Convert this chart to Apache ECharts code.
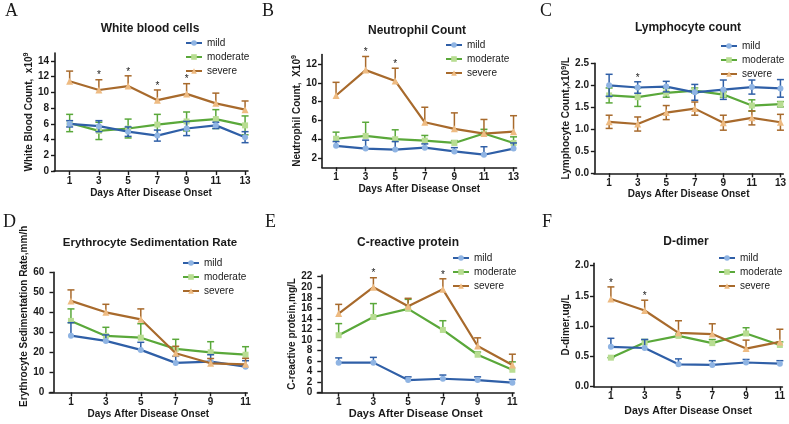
<!DOCTYPE html>
<html><head><meta charset="utf-8">
<script src="https://cdn.jsdelivr.net/npm/echarts@6/dist/echarts.min.js"></script>
<style>html,body{margin:0;padding:0;background:#fff}#c{width:789px;height:424px}</style>
</head><body><div id="c"></div>
<script>
// ---------- data ----------
const days13 = [1, 3, 5, 7, 9, 11, 13];
const days11 = [1, 3, 5, 7, 9, 11];
const groups = ['mild', 'moderate', 'severe'];

// A  White blood cells
const wbcMild = [6.0, 5.7, 5.0, 4.5, 5.4, 5.8, 4.3];
const wbcMildErr = [0.4, 0.7, 0.6, 0.7, 0.9, 0.4, 0.7];
const wbcModerate = [6.1, 5.1, 5.4, 5.9, 6.3, 6.6, 5.8];
const wbcModerateErr = [1.1, 1.1, 1.2, 1.3, 1.2, 1.2, 1.2];
const wbcSevere = [11.4, 10.3, 10.8, 9.0, 9.8, 8.6, 7.8];
const wbcSevereErr = [1.3, 1.3, 1.3, 1.3, 1.3, 1.3, 1.1];
const wbcStars = [3, 5, 7, 9];
const wbcTicks = [0, 2, 4, 6, 8, 10, 12, 14];

// B  Neutrophil count
const neuMild = [3.3, 3.0, 2.9, 3.1, 2.7, 2.35, 3.0];
const neuMildErr = [0.45, 0.9, 0.85, 0.4, 0.4, 0.85, 0.6];
const neuModerate = [4.05, 4.35, 4.0, 3.85, 3.6, 4.6, 3.6];
const neuModerateErr = [0.7, 1.45, 1.0, 0.55, 0.25, 0.45, 0.65];
const neuSevere = [8.65, 11.35, 10.2, 5.8, 5.1, 4.6, 4.8];
const neuSevereErr = [1.4, 1.45, 1.35, 1.6, 1.7, 1.5, 1.7];
const neuStars = [3, 5];
const neuTicks = [2, 4, 6, 8, 10, 12];

// C  Lymphocyte count
const lymMild = [2.0, 1.95, 1.97, 1.84, 1.9, 1.96, 1.93];
const lymMildErr = [0.25, 0.13, 0.12, 0.18, 0.22, 0.16, 0.2];
const lymModerate = [1.77, 1.73, 1.83, 1.88, 1.79, 1.54, 1.57];
const lymModerateErr = [0.17, 0.21, 0.1, 0.06, 0.06, 0.13, 0.06];
const lymSevere = [1.17, 1.12, 1.38, 1.47, 1.15, 1.26, 1.16];
const lymSevereErr = [0.15, 0.16, 0.16, 0.15, 0.17, 0.16, 0.18];
const lymStars = [3];
const lymTicks = [0, 0.5, 1.0, 1.5, 2.0, 2.5];

// D  Erythrocyte sedimentation rate
const esrMild = [28.3, 25.7, 21.2, 14.7, 15.3, 12.8];
const esrMildErr = [6.5, 3.0, 3.8, 3.3, 3.5, 3.0];
const esrModerate = [35.7, 28.2, 27.3, 21.7, 20.0, 18.8];
const esrModerateErr = [6.0, 4.3, 7.0, 4.8, 5.3, 4.0];
const esrSevere = [45.7, 40.0, 36.5, 19.5, 14.5, 14.0];
const esrSevereErr = [5.5, 4.0, 5.2, 3.5, 2.4, 3.0];
const esrStars = [];
const esrTicks = [0, 10, 20, 30, 40, 50, 60];

// E  C-reactive protein
const crpMild = [5.7, 5.7, 2.4, 2.65, 2.4, 1.9];
const crpMildErr = [0.9, 1.0, 0.6, 0.7, 0.6, 0.6];
const crpModerate = [10.9, 14.35, 15.9, 11.9, 7.2, 4.35];
const crpModerateErr = [2.2, 2.55, 1.8, 1.75, 0.5, 1.5];
const crpSevere = [15.0, 20.0, 16.4, 19.6, 8.85, 5.25];
const crpSevereErr = [1.75, 1.8, 1.5, 2.0, 1.55, 2.05];
const crpStars = [3, 7];
const crpTicks = [0, 2, 4, 6, 8, 10, 12, 14, 16, 18, 20, 22];

// F  D-dimer
const ddMild = [0.66, 0.64, 0.37, 0.36, 0.40, 0.38];
const ddMildErr = [0.14, 0.14, 0.09, 0.07, 0.05, 0.05];
const ddModerate = [0.48, 0.73, 0.84, 0.72, 0.88, 0.69];
const ddModerateErr = [0.0, 0.05, 0.03, 0.06, 0.095, 0.05];
const ddSevere = [1.45, 1.26, 0.89, 0.87, 0.63, 0.74];
const ddSevereErr = [0.2, 0.17, 0.2, 0.17, 0.14, 0.21];
const ddStars = [1, 3];
const ddTicks = [0, 0.5, 1.0, 1.5, 2.0];

// ---------- panels (data references + layout) ----------
const panels = [
  {letter: 'A', title: 'White blood cells', xs: days13, yTicks: wbcTicks, stars: wbcStars, starGroup: 'severe',
   yName: 'White Blood Count,  x10{s|9}',
   vals: {mild: [wbcMild, wbcMildErr], moderate: [wbcModerate, wbcModerateErr], severe: [wbcSevere, wbcSevereErr]},
   both: {mild: true, moderate: true, severe: false}},
  {letter: 'B', title: 'Neutrophil Count', xs: days13, yTicks: neuTicks, stars: neuStars, starGroup: 'severe',
   yName: 'Neutrophil Count,  X10{s|9}',
   vals: {mild: [neuMild, neuMildErr], moderate: [neuModerate, neuModerateErr], severe: [neuSevere, neuSevereErr]},
   both: {mild: false, moderate: false, severe: false}},
  {letter: 'C', title: 'Lymphocyte count', xs: days13, yTicks: lymTicks, stars: lymStars, starGroup: 'mild',
   yName: 'Lymphocyte Count,x10{s|9}/L',
   vals: {mild: [lymMild, lymMildErr], moderate: [lymModerate, lymModerateErr], severe: [lymSevere, lymSevereErr]},
   both: {mild: true, moderate: true, severe: true}},
  {letter: 'D', title: 'Erythrocyte Sedimentation Rate', xs: days11, yTicks: esrTicks, stars: esrStars, starGroup: 'severe',
   yName: 'Erythrocyte Sedimentation Rate,mm/h',
   vals: {mild: [esrMild, esrMildErr], moderate: [esrModerate, esrModerateErr], severe: [esrSevere, esrSevereErr]},
   both: {mild: false, moderate: false, severe: false}},
  {letter: 'E', title: 'C-reactive protein', xs: days11, yTicks: crpTicks, stars: crpStars, starGroup: 'severe',
   yName: 'C-reactive protein,mg/L',
   vals: {mild: [crpMild, crpMildErr], moderate: [crpModerate, crpModerateErr], severe: [crpSevere, crpSevereErr]},
   both: {mild: false, moderate: false, severe: false}},
  {letter: 'F', title: 'D-dimer', xs: days11, yTicks: ddTicks, stars: ddStars, starGroup: 'severe',
   yName: 'D-dimer,ug/L',
   vals: {mild: [ddMild, ddMildErr], moderate: [ddModerate, ddModerateErr], severe: [ddSevere, ddSevereErr]},
   both: {mild: false, moderate: false, severe: false}}
];

const layouts = [
  {grid: {left: 54, top: 53, width: 194, height: 118}, xMin: -0.07, xMax: 13.2, yMin: 0, yMax: 15, dec: 0,
   letter: [5, 11], title: [150, 29], legend: [185, 38], yGap: 16, xGap: 17, xNameSize: 10, yNameShift: 0},
  {grid: {left: 322, top: 54.6, width: 194.5, height: 112.8}, xMin: 0.05, xMax: 13.2, yMin: 1, yMax: 13, dec: 0,
   letter: [262, 11], title: [417, 31], legend: [445, 40], yGap: 19, xGap: 17, xNameSize: 10, yNameShift: 0},
  {grid: {left: 594, top: 63.3, width: 192, height: 110}, xMin: -0.06, xMax: 13.2, yMin: 0, yMax: 2.5, dec: 1,
   letter: [540, 11], title: [688, 28], legend: [720, 41], yGap: 20, xGap: 16, xNameSize: 10, yNameShift: 0},
  {grid: {left: 49.3, top: 272.3, width: 198, height: 120}, xMin: -0.24, xMax: 11.1, yMin: 0, yMax: 60, dec: 0,
   letter: [3, 222], title: [150, 243], legend: [182, 258], yGap: 14, xGap: 17, xNameSize: 10, yNameShift: 32},
  {grid: {left: 317.3, top: 275.1, width: 196.8, height: 117.6}, xMin: -0.23, xMax: 11.1, yMin: 0, yMax: 22.3, dec: 0,
   letter: [265, 222], title: [408, 243], legend: [452, 253], yGap: 15, xGap: 15, xNameSize: 11, yNameShift: 0},
  {grid: {left: 594, top: 263.3, width: 188.4, height: 123.4}, xMin: 0, xMax: 11.15, yMin: 0, yMax: 2.04, dec: 1,
   letter: [542, 222], title: [686, 242], legend: [718, 253], yGap: 22, xGap: 19, xNameSize: 10.5, yNameShift: 0}
];

// ---------- styles ----------
const FONT = "'Liberation Sans', Arial, Helvetica, sans-serif";
const INK = '#1a1a1a';
const COLORS = {
  mild: {line: '#2f5fa7', sym: '#8fb4e3'},
  moderate: {line: '#5aa83a', sym: '#b8dd92'},
  severe: {line: '#a86a2c', sym: '#eebb82'}
};
const SYMBOL = {mild: 'circle', moderate: 'rect', severe: 'triangle'};
const SYMSIZE = {mild: 6, moderate: 6, severe: 7};

const grid = [], xAxis = [], yAxis = [], series = [], legend = [], graphic = [];

panels.forEach((p, i) => {
  const L = layouts[i];
  grid.push(L.grid);
  xAxis.push({
    gridIndex: i, type: 'value', min: L.xMin, max: L.xMax,
    name: 'Days After Disease Onset', nameLocation: 'middle', nameGap: L.xGap,
    nameTextStyle: {fontFamily: FONT, fontWeight: 'bold', fontSize: L.xNameSize, color: INK},
    axisLine: {show: true, onZero: false, lineStyle: {color: INK, width: 1.6}},
    axisTick: {show: true, length: 4, lineStyle: {color: INK, width: 1.4}, customValues: p.xs},
    axisLabel: {customValues: p.xs, margin: 5, fontFamily: FONT, fontWeight: 'bold', fontSize: 10, color: INK},
    splitLine: {show: false}
  });
  yAxis.push({
    gridIndex: i, type: 'value', min: L.yMin, max: L.yMax,
    name: p.yName, nameLocation: 'middle', nameGap: L.yGap, nameRotate: 90,
    nameTextStyle: {fontFamily: FONT, fontWeight: 'bold', fontSize: 10, color: INK,
      padding: [0, 0, 0, L.yNameShift],
      rich: {s: {fontFamily: FONT, fontWeight: 'bold', fontSize: 7, color: INK, verticalAlign: 'top', padding: [0, 0, 5, 0]}}},
    axisLine: {show: true, lineStyle: {color: INK, width: 1.6}},
    axisTick: {show: true, length: 4, lineStyle: {color: INK, width: 1.4}, customValues: p.yTicks},
    axisLabel: {customValues: p.yTicks, margin: 5, fontFamily: FONT, fontWeight: 'bold', fontSize: 10, color: INK,
      formatter: v => Number(v).toFixed(L.dec)},
    splitLine: {show: false}
  });

  const order = ['moderate', 'mild', 'severe'];
  order.forEach((g, oi) => {
    const [vals, errs] = p.vals[g];
    const c = COLORS[g];
    const both = p.both[g];
    series.push({
      type: 'custom', name: g + ' error', xAxisIndex: i, yAxisIndex: i, silent: true, z: 2 + oi * 2,
      data: p.xs.map((d, k) => [d, vals[k], both ? errs[k] : 0, errs[k]]),
      encode: {x: 0, y: 1},
      renderItem: (params, api) => {
        const x = api.value(0), y = api.value(1), lo = api.value(2), hi = api.value(3);
        const top = api.coord([x, y + hi]);
        const bot = api.coord([x, y - lo]);
        const w = 3.5;
        const st = {stroke: c.line, lineWidth: 1.5};
        const ch = [
          {type: 'line', shape: {x1: top[0], y1: top[1], x2: bot[0], y2: bot[1]}, style: st},
          {type: 'line', shape: {x1: top[0] - w, y1: top[1], x2: top[0] + w, y2: top[1]}, style: st}
        ];
        if (lo > 0) ch.push({type: 'line', shape: {x1: bot[0] - w, y1: bot[1], x2: bot[0] + w, y2: bot[1]}, style: st});
        return {type: 'group', children: ch};
      }
    });
    series.push({
      type: 'line', name: g, xAxisIndex: i, yAxisIndex: i, z: 3 + oi * 2,
      data: p.xs.map((d, k) => [d, vals[k]]),
      symbol: SYMBOL[g], symbolSize: SYMSIZE[g], showAllSymbol: true,
      lineStyle: {color: c.line, width: 2.2},
      itemStyle: {color: c.sym, borderWidth: 0},
      emphasis: {disabled: true}
    });
  });

  // significance stars above the error bar of the marked group
  const [sv, se] = p.vals[p.starGroup];
  series.push({
    type: 'custom', name: 'significance', xAxisIndex: i, yAxisIndex: i, silent: true, z: 20,
    data: p.stars.map(d => { const k = p.xs.indexOf(d); return [d, sv[k] + se[k]]; }),
    encode: {x: 0, y: 1},
    renderItem: (params, api) => {
      const pt = api.coord([api.value(0), api.value(1)]);
      return {type: 'text', x: pt[0], y: pt[1] + 1,
        style: {text: '*', align: 'center', verticalAlign: 'bottom', font: '10px ' + FONT, fill: INK}};
    }
  });

  legend.push({
    orient: 'vertical', left: L.legend[0], top: L.legend[1], padding: 0,
    itemWidth: 16, itemHeight: 7, itemGap: 4,
    textStyle: {fontFamily: FONT, fontSize: 10, color: INK},
    data: groups
  });

  graphic.push({type: 'text', x: L.title[0], y: L.title[1],
    style: {text: p.title, align: 'center', verticalAlign: 'middle',
      font: 'bold ' + (i === 3 ? 11.5 : 12) + 'px ' + FONT, fill: INK}});
  graphic.push({type: 'text', x: L.letter[0], y: L.letter[1],
    style: {text: p.letter, align: 'left', verticalAlign: 'middle',
      font: "18px 'Liberation Serif', 'DejaVu Serif', serif", fill: INK}});
});

const chart = echarts.init(document.getElementById('c'));
chart.setOption({
  animation: false,
  backgroundColor: '#fff',
  grid, xAxis, yAxis, series, legend, graphic
});
</script>
</body></html>
